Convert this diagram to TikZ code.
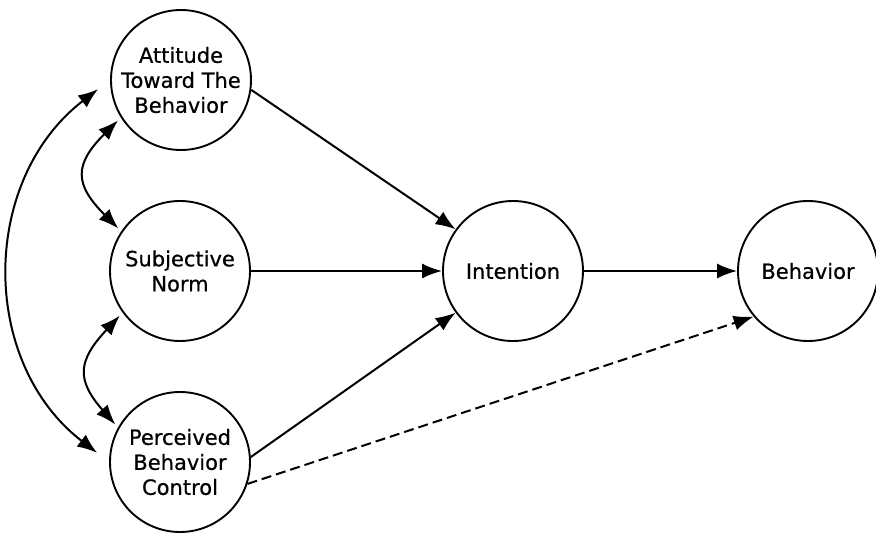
\documentclass[tikz,border=0pt]{standalone}
\usepackage{fontspec}
\setmainfont{DejaVu Sans}[FakeBold=0.6]
\usetikzlibrary{arrows.meta}
\begin{document}
\begin{tikzpicture}[x=1pt,y=1pt,
  construct/.style={circle, draw, line width=1.9pt, minimum size=140pt, inner sep=0pt,
    align=center, font=\fontsize{21}{25}\selectfont},
  tip/.style={},
  link/.style={line width=2pt, -{Latex[length=20pt,width=15pt]}},
  corr/.style={line width=2pt, {Latex[length=20pt,width=15pt]}-{Latex[length=20pt,width=15pt]}},
  tentative/.style={link, dash pattern=on 10pt off 5pt}]
\useasboundingbox (0,0) rectangle (876,533);

% constructs
\node[construct] (att) at (181,453) {Attitude\\Toward The\\Behavior};
\node[construct] (sn)  at (180,262) {Subjective\\Norm};
\node[construct] (pbc) at (180,71)  {Perceived\\Behavior\\Control};
\node[construct] (int) at (513,262) {Intention};
\node[construct] (beh) at (808,262) {Behavior};

% correlations between the antecedents
\draw[corr, shorten <=15pt, shorten >=15pt]
  (att.west) .. controls +(-130,-100) and +(-130,100) .. (pbc.west);
\draw[corr, shorten <=4pt, shorten >=4pt]
  (att.212) .. controls +(-47,-47) and +(-47,47) .. (sn.146);
\draw[corr, shorten <=4pt, shorten >=4pt]
  (sn.216) .. controls +(-45,-48) and +(-42,48) .. (pbc.151);

% direct effects
\draw[link] (att.352) -- (int.144);
\draw[link] (sn.east) -- (int.west);
\draw[link] (pbc.4) -- (int.216);
\draw[link] (int.east) -- (beh.west);
\draw[tentative] (pbc.342) -- (beh.220);
\end{tikzpicture}
\end{document}
